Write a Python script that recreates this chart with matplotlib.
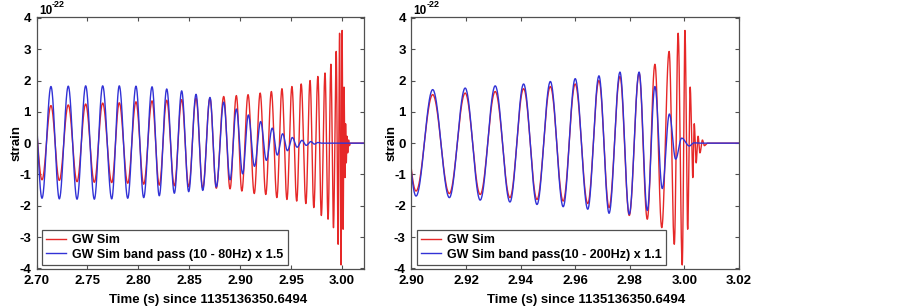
import numpy as np
import matplotlib
matplotlib.use("Agg")
import matplotlib.pyplot as plt

# ---- data: extrema (time, strain x1e-22) ----
red_t = [2.6969, 2.7054, 2.7142, 2.7224, 2.7312, 2.7398, 2.7483, 2.7568, 2.7650, 2.7739,
         2.7813, 2.7896, 2.7977, 2.8053, 2.8135, 2.8206, 2.8279, 2.8354, 2.8426, 2.8495,
         2.8567, 2.8633, 2.8704, 2.8766, 2.8839, 2.8901, 2.8963, 2.9017, 2.9078, 2.9139,
         2.9197, 2.9252, 2.9307, 2.9361, 2.9411, 2.9460, 2.9509, 2.9556, 2.9600, 2.9646,
         2.9687, 2.9724, 2.9764, 2.9798, 2.9834, 2.9864, 2.9892, 2.9917, 2.9944, 2.9963,
         2.9977, 2.9992, 3.0002, 3.0012, 3.0021, 3.0031, 3.0036, 3.0043, 3.0050, 3.0057,
         3.0066, 3.0073, 3.0085, 3.0300]
red_v = [1.19, -1.17, 1.20, -1.19, 1.22, -1.23, 1.25, -1.25, 1.28, -1.26,
         1.29, -1.28, 1.32, -1.31, 1.35, -1.34, 1.37, -1.36, 1.39, -1.39,
         1.44, -1.44, 1.44, -1.44, 1.49, -1.46, 1.52, -1.53, 1.55, -1.61,
         1.60, -1.64, 1.65, -1.74, 1.74, -1.80, 1.81, -1.85, 1.89, -1.93,
         2.00, -2.06, 2.13, -2.31, 2.24, -2.43, 2.52, -2.70, 2.93, -3.23,
         3.51, -3.89, 3.60, -2.75, 1.79, -1.10, 0.62, -0.63, 0.22, -0.31,
         0.10, -0.08, 0.0, 0.0]

blue80_t = [2.6969, 2.7054, 2.7142, 2.7224, 2.7312, 2.7398, 2.7483, 2.7568, 2.7650, 2.7739,
            2.7813, 2.7896, 2.7977, 2.8053, 2.8135, 2.8206, 2.8279, 2.8354, 2.8426, 2.8495,
            2.8567, 2.8633, 2.8704, 2.8766, 2.8839, 2.8901, 2.8963, 2.9025, 2.9081, 2.9141,
            2.9202, 2.9258, 2.9316, 2.9365, 2.9418, 2.9465, 2.9513, 2.9560, 2.9608, 2.9650,
            2.9695, 2.9730, 2.9764, 2.9800, 3.0300]
blue80_v = [1.80, -1.76, 1.81, -1.78, 1.82, -1.79, 1.83, -1.79, 1.83, -1.78,
            1.83, -1.76, 1.82, -1.74, 1.80, -1.68, 1.73, -1.60, 1.67, -1.55,
            1.56, -1.51, 1.46, -1.40, 1.31, -1.17, 1.09, -0.98, 0.90, -0.74,
            0.69, -0.55, 0.48, -0.38, 0.30, -0.24, 0.18, -0.13, 0.09, -0.07,
            0.05, -0.03, 0.02, 0.0, 0.0]

blue200_t = [2.8963, 2.9017, 2.9078, 2.9139, 2.9197, 2.9252, 2.9307, 2.9361, 2.9411, 2.9460,
             2.9509, 2.9556, 2.9600, 2.9646, 2.9687, 2.9724, 2.9764, 2.9798, 2.9834, 2.9864,
             2.9892, 2.9919, 2.9945, 2.9968, 2.9990, 3.0018, 3.0035, 3.0060, 3.0300]
blue200_v = [1.68, -1.69, 1.71, -1.74, 1.76, -1.82, 1.83, -1.88, 1.89, -1.96,
             1.97, -2.03, 2.06, -2.11, 2.15, -2.24, 2.27, -2.27, 2.27, -2.15,
             1.81, -1.45, 0.93, -0.51, 0.16, -0.09, 0.01, 0.0, 0.0]

x_ticks_left = [2.70, 2.75, 2.80, 2.85, 2.90, 2.95, 3.00]
x_ticks_right = [2.90, 2.92, 2.94, 2.96, 2.98, 3.00, 3.02]
y_ticks = [-4, -3, -2, -1, 0, 1, 2, 3, 4]
legend_left = ["GW Sim", "GW Sim band pass (10 - 80Hz) x 1.5"]
legend_right = ["GW Sim", "GW Sim band pass(10 - 200Hz) x 1.1"]
xlabel = "Time (s) since 1135136350.6494"

RED = "#e62828"
BLUE = "#3232d6"
FRAME = "#505050"
FONT = "Liberation Sans"


def wave(ts, vs, n=40):
    """Smooth half-cosine path through successive extrema."""
    xs, ys = [], []
    for i in range(len(ts) - 1):
        t0, t1, v0, v1 = ts[i], ts[i + 1], vs[i], vs[i + 1]
        s = np.linspace(0, 1, n, endpoint=False)
        xs.append(t0 + s * (t1 - t0))
        ys.append((v0 + v1) / 2 + (v0 - v1) / 2 * np.cos(np.pi * s))
    xs.append([ts[-1]])
    ys.append([vs[-1]])
    return np.concatenate(xs), np.concatenate(ys)


plt.rcParams['font.family'] = [FONT, 'DejaVu Sans']
plt.rcParams['font.weight'] = 'bold'

W, H = 903, 308
fig = plt.figure(figsize=(W / 100, H / 100), dpi=100)


def make_axes(x0, x1, y_top, y_bot):
    return fig.add_axes([x0 / W, (H - y_bot) / H, (x1 - x0) / W, (y_bot - y_top) / H])


axL = make_axes(36.5, 364, 17.3, 269)
axR = make_axes(411.4, 739, 17.3, 269)

panels = [
    (axL, (2.70, 3.0217), x_ticks_left, blue80_t, blue80_v, legend_left, 0.524),
    (axR, (2.90, 3.020), x_ticks_right, blue200_t, blue200_v, legend_right, 0.532),
]

for ax, xlim, xt, bt, bv, leg, xlab_pos in panels:
    rx, ry = wave(red_t, red_v)
    bx, by = wave(bt, bv)
    ax.plot(rx, ry, color=RED, lw=1.0, label=leg[0])
    ax.plot(bx, by, color=BLUE, lw=1.0, label=leg[1])
    ax.set_xlim(*xlim)
    ax.set_ylim(-4.02, 4.02)
    ax.set_xticks(xt)
    ax.set_xticklabels([f"{v:.2f}" for v in xt])
    ax.set_yticks(y_ticks)
    ax.set_yticklabels([str(v) for v in y_ticks])
    ax.tick_params(direction='in', length=3, width=0.8, top=True, right=True,
                   colors=FRAME, labelcolor='black', labelsize=9.5, pad=4)
    for lab in ax.get_xticklabels() + ax.get_yticklabels():
        lab.set_fontweight('bold')
    for sp in ax.spines.values():
        sp.set_color(FRAME)
        sp.set_linewidth(0.9)
    ax.set_ylabel("strain", fontsize=9.5, fontweight='bold', labelpad=-2.5)
    ax.set_xlabel(xlabel, fontsize=9.5, fontweight='bold')
    ax.xaxis.set_label_coords(xlab_pos, -0.10)
    lg = ax.legend(loc='lower left', bbox_to_anchor=(0.016, 0.016), borderaxespad=0,
                   fancybox=False, edgecolor=FRAME, framealpha=1,
                   prop={'family': FONT, 'weight': 'bold', 'size': 9},
                   handlelength=1.6, handletextpad=0.5, borderpad=0.35,
                   labelspacing=0.2)
    lg.get_frame().set_linewidth(0.9)
    # exponent label
    ax.text(0.007, 1.013, "10", transform=ax.transAxes, fontsize=8.5,
            fontweight='bold', ha='left', va='baseline')
    ax.text(0.046, 1.042, "-22", transform=ax.transAxes, fontsize=6.5,
            fontweight='bold', ha='left', va='baseline')

fig.savefig("out.png", dpi=100)
